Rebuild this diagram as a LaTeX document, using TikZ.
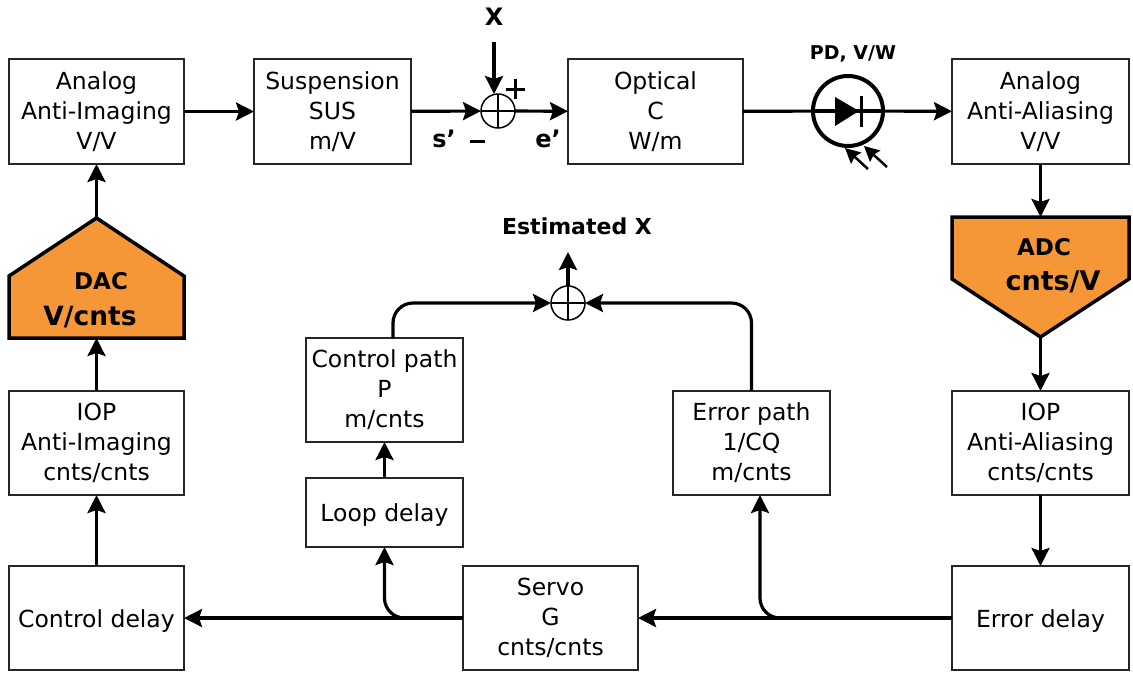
\documentclass[tikz,border=0pt]{standalone}
\usepackage{fontspec}
\setmainfont{DejaVu Sans}
\usetikzlibrary{arrows.meta,calc}
\tikzset{
  block/.style={draw=black!85,line width=1.6pt,fill=white,align=center,inner sep=0pt,outer sep=0pt,font=\fontsize{23.5}{30}\selectfont},
  shapebox/.style={inner sep=0pt,outer sep=0pt,minimum width=175pt,minimum height=120pt},
  sumj/.style={circle,draw=black,line width=1.5pt,minimum size=34pt,inner sep=0pt,outer sep=0pt,fill=white},
  wire/.style={line width=3.2pt,-{Stealth[length=18pt,width=18pt,inset=3pt]},rounded corners=20pt},
  plain/.style={line width=3.2pt},
  lab/.style={font=\bfseries\fontsize{24}{28}\selectfont,inner sep=0pt},
  conv/.style={draw=black,line width=3.5pt,fill=orange1,line join=miter}
}
\definecolor{orange1}{HTML}{F59637}
\begin{document}
\begin{tikzpicture}[x=1pt,y=-1pt]
\useasboundingbox (0,0) rectangle (1133,673);
\newcommand{\bx}[6]{\node[block,minimum width=#4pt,minimum height=#5pt] (#1) at (#2,#3) {#6};}
\newcommand{\low}[1]{\raisebox{-9pt}[0pt][0pt]{#1}}
\bx{aai}{96.5}{111.5}{175}{105}{Analog\\Anti-Imaging\\V/V}
\bx{sus}{332.5}{111.5}{157}{105}{Suspension\\SUS\\m/V}
\bx{opt}{655.5}{111.5}{175}{105}{Optical\\C\\W/m}
\bx{aaa}{1040.5}{111.5}{177}{105}{Analog\\Anti-Aliasing\\V/V}
\bx{iopi}{96.5}{443}{175}{104}{IOP\\Anti-Imaging\\cnts/cnts}
\bx{ctd}{96.5}{618}{175}{104}{\low{Control delay}}
\bx{ctp}{384.5}{390}{157}{104}{Control path\\P\\m/cnts}
\bx{lpd}{384.5}{512.5}{157}{69}{\low{Loop delay}}
\bx{srv}{550.5}{618}{175}{104}{Servo\\G\\cnts/cnts}
\bx{erp}{751.5}{443}{157}{104}{Error path\\1/CQ\\m/cnts}
\bx{iopa}{1040.5}{443}{177}{104}{IOP\\Anti-Aliasing\\cnts/cnts}
\bx{erd}{1040.5}{618}{177}{104}{\low{Error delay}}
% converters
\node[shapebox] (dac) at (96.5,278) {};
\node[shapebox,minimum width=177pt] (adc) at (1040.5,277) {};
\draw[conv] (dac.south west) -- ($(dac.west)+(0,-2)$) -- (dac.north) -- ($(dac.east)+(0,-2)$) -- (dac.south east) -- cycle;
\draw[conv] (adc.north west) -- ($(adc.west)+(0,2)$) -- (adc.south) -- ($(adc.east)+(0,2)$) -- (adc.north east) -- cycle;
\node[lab,font=\bfseries\fontsize{23}{26}\selectfont] (dact) at (101,281) {DAC};
\node[lab,font=\bfseries\fontsize{26.5}{30}\selectfont] (dacu) at (90,317) {V/cnts};
\node[lab,font=\bfseries\fontsize{23}{26}\selectfont] (adct) at (1044,247) {ADC};
\node[lab,font=\bfseries\fontsize{27}{30}\selectfont] (adcu) at (1053,282) {cnts/V};
% summing junctions
\node[sumj] (s1) at (498,111) {};
\node[sumj] (s2) at (568,303) {};
\draw[line width=1.5pt] (s1.north)--(s1.south) (s1.west)--(s1.east) (s2.north)--(s2.south) (s2.west)--(s2.east);
% photodiode
\node[circle,draw=black,line width=4pt,minimum size=70pt,inner sep=0pt,outer sep=0pt] (pd) at (848,111) {};
\coordinate (xtop) at (494,42);
\coordinate (estq) at (568,252);
% top row connectors
\draw[wire] (aai) -- (sus);
\draw[wire] (sus) -- (s1);
\draw[wire] (xtop) -- (xtop|-s1.north);
\draw[wire] (s1) -- (opt);
\draw[plain] (opt) -- (pd);
\draw[wire] (pd) -- (aaa);
\draw[plain] (pd.west) -- (pd.east);
\fill ($(pd.center)+(-13,-14)$) -- ($(pd.center)+(11,0)$) -- ($(pd.center)+(-13,15)$) -- cycle;
\draw[line width=3pt] ($(pd.center)+(13,-15)$) -- ($(pd.center)+(13,16)$);
\coordinate (p1s) at (868,169); \coordinate (p1e) at (845,148);
\coordinate (p2s) at (887,167); \coordinate (p2e) at (864,146);
\draw[line width=2.5pt,-{Stealth[length=15pt,width=15pt,inset=2pt]}] (p1s) -- (p1e);
\draw[line width=2.5pt,-{Stealth[length=15pt,width=15pt,inset=2pt]}] (p2s) -- (p2e);
% right column
\draw[wire] (aaa) -- (adc.north);
\draw[wire] (adc.south) -- (iopa);
\draw[wire] (iopa) -- (erd);
\draw[wire] (erd) -- (srv);
\draw[wire] (erd.west) -| ([xshift=8.5pt]erp.south);
% bottom
\draw[wire] (srv) -- (ctd);
\draw[wire] (srv.west) -| (lpd.south);
\draw[wire] (lpd) -- (ctp);
\draw[wire] ([xshift=8.5pt]ctp.north) |- (s2.west);
\draw[wire] (erp.north) |- (s2.east);
\draw[wire] (s2.north) -- (estq);
% left column
\draw[wire] (ctd) -- (iopi);
\draw[wire] (iopi) -- (dac.south);
\draw[wire] (dac.north) -- (aai);
% labels
\node[lab] (lx) at (494,17) {X};
\node[lab,font=\bfseries\fontsize{19}{22}\selectfont] (lpd2) at (853,54) {PD, V/W};
\node[lab,font=\bfseries\fontsize{22}{26}\selectfont] (lest) at (577,226) {Estimated X};
\node[lab] (ls) at (444,139) {s\symbol{39}};
\node[lab] (le) at (548,139) {e\symbol{39}};
\draw[line width=3pt] (470,141) -- (485,141);
\draw[line width=3pt] (506,89) -- (525,89) (515.5,79) -- (515.5,99);
\end{tikzpicture}
\end{document}
